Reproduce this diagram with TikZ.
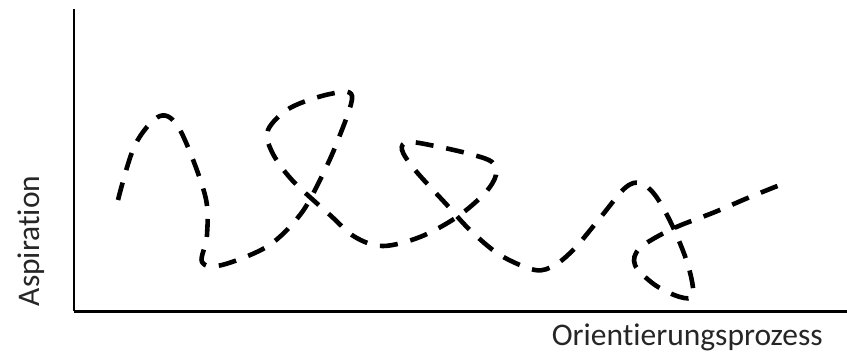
\documentclass[tikz,border=0pt]{standalone}
\usepackage{fontspec}
\setmainfont{Carlito}[Ligatures={NoCommon}]
\usepackage{tikz}

\tikzset{
    achse/.style={line width=2.2pt,black},
    pfad/.style={line width=4.6pt,dash pattern=on 18pt off 13pt,line cap=butt},
    beschriftung/.style={font=\fontsize{31.5}{36}\selectfont,text=black!85,inner sep=0pt}
}

\begin{document}
\begin{tikzpicture}[x=1pt,y=-1pt]
        \useasboundingbox (0,0) rectangle (847,353);
        \coordinate (ursprung) at (74,311);
        \coordinate (yende) at (74,9);
        \coordinate (xende) at (847,311);
        \draw[achse] (yende) -- (ursprung);
        \draw[achse,line width=3pt] (ursprung) -- (xende);
        \node[beschriftung,rotate=90] (aspiration) at (31,241) {Aspiration};
        \node[beschriftung,anchor=base east] (prozess) at (823,345) {Orientierungsprozess};
        % Verlauf
        \draw[pfad] plot[smooth,tension=0.55] coordinates {
            (118,200) (135,145) (160,116) (180,130) (205,195) (207,235) (202,262)
            (222,265) (268,246) (300,215) (320,180) (338,140) (352,96)
            (330,94) (290,108) (268,130) (272,152) (292,180) (330,215) (355,237)
            (383,246) (420,237) (457,217) (485,193) (496,175) (492,162) (470,154)
            (435,146) (408,142) (402,150) (415,170) (447,205) (470,230) (500,255)
            (535,270) (555,265) (575,248) (600,218) (625,188) (640,183) (655,195)
            (672,225) (688,265) (693,295) (680,297) (655,285) (635,265) (640,248)
            (672,229) (715,212) (750,197) (780,185)};
    \end{tikzpicture}
\end{document}
